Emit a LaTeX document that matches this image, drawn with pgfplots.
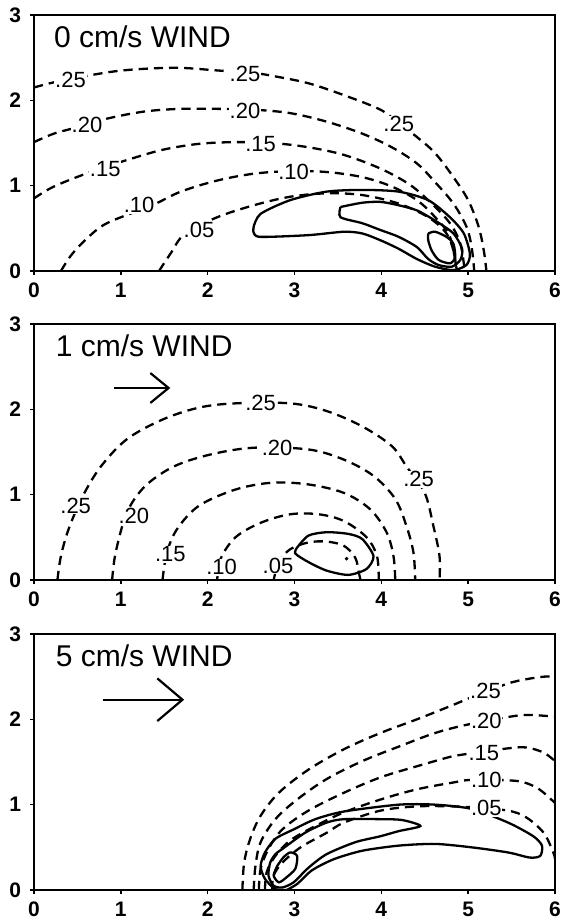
\documentclass[border=0pt]{standalone}
\usepackage{pgfplots}
\pgfplotsset{compat=1.18}
\usepackage{fontspec}
\setmainfont{Liberation Sans}

\pgfplotsset{
  panel/.style={
    scale only axis,
    width=260.5pt, height=128pt,
    anchor=south west,
    xmin=0, xmax=6, ymin=0, ymax=3,
    xtick={0,1,2,3,4,5,6}, ytick={0,1,2,3},
    xtick pos=lower, ytick pos=left,
    tick align=outside, major tick length=2pt,
    axis line style={line width=1.3pt},
    tick style={black, line width=0.8pt},
    tick label style={font=\fontsize{10.5}{11}\selectfont\bfseries},
    /pgf/number format/assume math mode=true,
    yticklabel style={xshift=-1pt},
    xticklabel style={yshift=-0.5pt},
  },
}
\tikzset{
  dashc/.style={black, line width=1.15pt, dash pattern=on 4.6pt off 3pt, smooth, tension=0.55},
  cont/.style={black, line width=1.15pt, smooth, tension=0.45},
  lab/.style={font=\fontsize{11}{12}\selectfont, fill=white, inner sep=0.4pt},
  ttl/.style={font=\fontsize{15}{16}\selectfont, anchor=west},
}

\begin{document}
\begin{tikzpicture}
\useasboundingbox (0,0) rectangle (284pt,460pt);

% ---------------- 0 cm/s ----------------
\begin{axis}[panel, at={(17pt,324.5pt)}]
  % dashed contours
  \addplot[dashc] coordinates {
    (0,2.15) (0.27,2.22) (0.86,2.33) (1.28,2.37) (1.69,2.38) (2.11,2.35)
    (2.53,2.32) (2.78,2.28) (3.16,2.20) (3.57,2.06) (3.99,1.89) (4.20,1.73)
    (4.41,1.57) (4.62,1.38) (4.83,1.10) (5.00,0.83) (5.12,0.52) (5.18,0.24) (5.21,0)};
  \addplot[dashc] coordinates {
    (0,1.51) (0.23,1.61) (0.52,1.69) (0.86,1.79) (1.28,1.87) (1.69,1.90)
    (2.11,1.90) (2.53,1.89) (2.95,1.85) (3.37,1.75) (3.78,1.61) (4.12,1.45)
    (4.41,1.26) (4.62,1.04) (4.83,0.79) (4.98,0.52) (5.04,0.28) (5.07,0)};
  \addplot[dashc] coordinates {
    (0,0.85) (0.23,0.99) (0.65,1.16) (1.07,1.30) (1.48,1.42) (1.90,1.49)
    (2.32,1.51) (2.74,1.50) (3.16,1.45) (3.57,1.36) (3.99,1.20) (4.33,1.01)
    (4.58,0.79) (4.79,0.56) (4.91,0.32) (4.96,0)};
  \addplot[dashc] coordinates {
    (0.31,0) (0.44,0.20) (0.65,0.42) (0.86,0.57) (1.36,0.77) (1.69,0.93)
    (2.11,1.06) (2.53,1.14) (2.95,1.17) (3.37,1.16) (3.78,1.10) (4.12,0.99)
    (4.41,0.83) (4.62,0.63) (4.79,0.40) (4.87,0)};
  \addplot[dashc] coordinates {
    (1.44,0) (1.57,0.20) (1.74,0.44) (2.11,0.63) (2.53,0.77) (2.95,0.87)
    (3.37,0.91) (3.78,0.89) (4.20,0.79) (4.54,0.63) (4.75,0.44) (4.84,0.20) (4.86,0)};
  % solid contours
  \addplot[cont] coordinates {
    (2.53,0.52) (2.61,0.67) (2.95,0.83) (3.37,0.93) (3.78,0.95) (4.20,0.93)
    (4.54,0.83) (4.79,0.63) (4.95,0.44) (5.02,0.20) (4.98,0.07) (4.83,0.01)
    (4.62,0.05) (4.41,0.14) (4.20,0.26) (3.99,0.36) (3.78,0.44) (3.57,0.46)
    (3.16,0.42) (2.61,0.40) (2.53,0.45) (2.53,0.52)};
  \addplot[cont] coordinates {
    (3.53,0.75) (3.78,0.80) (3.99,0.81) (4.20,0.77) (4.41,0.71) (4.62,0.59)
    (4.83,0.44) (4.93,0.26) (4.91,0.13) (4.81,0.05) (4.66,0.07) (4.54,0.14)
    (4.41,0.28) (4.20,0.40) (3.99,0.48) (3.78,0.56) (3.53,0.63) (3.53,0.75)};
  \addplot[cont] coordinates {
    (4.54,0.44) (4.62,0.46) (4.75,0.40) (4.83,0.32) (4.85,0.16) (4.79,0.09)
    (4.66,0.13) (4.58,0.24) (4.54,0.36) (4.54,0.44)};
  % labels
  \node[ttl] at (axis cs:0.15,2.74) {0 cm/s WIND};
  \node[lab] at (axis cs:0.42,2.24) {.25};
  \node[lab] at (axis cs:2.43,2.31) {.25};
  \node[lab] at (axis cs:4.20,1.72) {.25};
  \node[lab] at (axis cs:0.61,1.71) {.20};
  \node[lab] at (axis cs:2.43,1.87) {.20};
  \node[lab] at (axis cs:0.82,1.20) {.15};
  \node[lab] at (axis cs:2.61,1.49) {.15};
  \node[lab] at (axis cs:1.21,0.77) {.10};
  \node[lab] at (axis cs:2.99,1.16) {.10};
  \node[lab] at (axis cs:1.90,0.48) {.05};
\end{axis}

% ---------------- 1 cm/s ----------------
\begin{axis}[panel, at={(17pt,170pt)}]
  \addplot[dashc] coordinates {
    (0.27,0) (0.31,0.28) (0.40,0.60) (0.56,0.98) (0.77,1.33) (1.07,1.65)
    (1.48,1.88) (1.90,2.02) (2.32,2.07) (2.95,2.07) (3.37,1.98) (3.78,1.80)
    (4.12,1.57) (4.29,1.33) (4.50,1.02) (4.60,0.63) (4.67,0.28) (4.67,0)};
  \addplot[dashc] coordinates {
    (0.90,0) (0.94,0.32) (1.07,0.79) (1.28,1.10) (1.61,1.33) (2.03,1.47)
    (2.53,1.55) (3.16,1.53) (3.57,1.41) (3.91,1.22) (4.16,0.95) (4.29,0.63)
    (4.37,0.32) (4.39,0)};
  \addplot[dashc] coordinates {
    (1.48,0) (1.53,0.32) (1.65,0.60) (1.90,0.87) (2.32,1.06) (2.74,1.14)
    (3.16,1.12) (3.57,1.02) (3.87,0.83) (4.06,0.56) (4.14,0.28) (4.16,0)};
  \addplot[dashc] coordinates {
    (2.11,0) (2.15,0.25) (2.32,0.50) (2.61,0.67) (2.95,0.77) (3.28,0.77)
    (3.57,0.69) (3.83,0.50) (3.95,0.28) (3.97,0)};
  \addplot[dashc] coordinates {
    (2.76,0) (2.82,0.21) (2.95,0.36) (3.16,0.44) (3.37,0.45) (3.57,0.40)
    (3.70,0.26) (3.74,0.09) (3.76,0)};
  \addplot[cont] coordinates {
    (3.03,0.38) (3.16,0.52) (3.37,0.56) (3.62,0.54) (3.78,0.48) (3.91,0.28)
    (3.83,0.13) (3.62,0.06) (3.37,0.11) (3.16,0.21) (3.01,0.31) (3.03,0.38)};
  \addplot[black, only marks, mark=*, mark size=0.7pt] coordinates {(3.60,0.25)};
  \draw[line width=1.1pt] (axis cs:0.92,2.25) -- (axis cs:1.55,2.25);
  \draw[line width=1.1pt] (axis cs:1.34,2.425) -- (axis cs:1.55,2.25) -- (axis cs:1.34,2.075);
  \node[ttl] at (axis cs:0.17,2.75) {1 cm/s WIND};
  \node[lab] at (axis cs:0.48,0.87) {.25};
  \node[lab] at (axis cs:2.61,2.07) {.25};
  \node[lab] at (axis cs:4.43,1.18) {.25};
  \node[lab] at (axis cs:1.15,0.75) {.20};
  \node[lab] at (axis cs:2.80,1.55) {.20};
  \node[lab] at (axis cs:1.57,0.30) {.15};
  \node[lab] at (axis cs:2.16,0.15) {.10};
  \node[lab] at (axis cs:2.81,0.17) {.05};
\end{axis}

% ---------------- 5 cm/s ----------------
\begin{axis}[panel, at={(17pt,15pt)}]
  \addplot[dashc] coordinates {
    (2.40,0) (2.42,0.32) (2.49,0.60) (2.61,0.87) (2.82,1.14) (3.16,1.41)
    (3.57,1.65) (3.99,1.84) (4.41,2.00) (4.83,2.17) (5.04,2.26) (5.46,2.42)
    (5.67,2.47) (5.87,2.50) (6,2.50)};
  \addplot[dashc] coordinates {
    (2.53,0) (2.55,0.28) (2.61,0.56) (2.78,0.83) (3.03,1.06) (3.37,1.30)
    (3.78,1.51) (4.20,1.68) (4.62,1.84) (5.00,1.94) (5.54,2.04) (5.75,2.05) (6,2.03)};
  \addplot[dashc] coordinates {
    (2.59,0) (2.61,0.25) (2.70,0.48) (2.86,0.71) (3.16,0.93) (3.57,1.14)
    (3.99,1.32) (4.41,1.45) (4.83,1.57) (5.02,1.60) (5.46,1.66) (5.67,1.67)
    (5.87,1.61) (6,1.51)};
  \addplot[dashc] coordinates {
    (2.66,0) (2.68,0.21) (2.78,0.40) (2.95,0.58) (3.24,0.75) (3.57,0.91)
    (3.99,1.06) (4.41,1.18) (4.83,1.26) (5.04,1.29) (5.54,1.28) (5.75,1.22)
    (5.87,1.14) (6,1.02)};
  \addplot[dashc] coordinates {
    (2.74,0) (2.76,0.17) (2.86,0.32) (3.07,0.50) (3.37,0.67) (3.57,0.79)
    (3.99,0.93) (4.41,0.98) (4.83,0.98) (5.04,0.97) (5.46,0.93) (5.67,0.85)
    (5.87,0.67) (5.98,0.44) (6,0.36)};
  \addplot[cont] coordinates {
    (2.91,0) (2.78,0.01) (2.66,0.13) (2.61,0.28) (2.66,0.44) (2.78,0.60)
    (2.99,0.71) (3.24,0.83) (3.57,0.92) (4.20,1.00) (4.62,1.00) (5.04,0.95)
    (5.46,0.79) (5.75,0.63) (5.85,0.52) (5.83,0.40) (5.71,0.38) (5.46,0.44)
    (5.04,0.50) (4.62,0.54) (4.20,0.52) (3.78,0.46) (3.45,0.36) (3.20,0.23)
    (3.03,0.07) (2.91,0)};
  \addplot[cont] coordinates {
    (2.86,0.48) (3.12,0.67) (3.37,0.79) (3.57,0.83) (3.99,0.83) (4.24,0.82)
    (4.45,0.75) (4.20,0.69) (3.99,0.63) (3.70,0.56) (3.37,0.42) (3.16,0.26)
    (2.99,0.09) (2.86,0.03) (2.76,0.05) (2.70,0.17) (2.72,0.32) (2.78,0.42) (2.86,0.48)};
  \addplot[cont] coordinates {
    (2.80,0.28) (2.87,0.38) (2.95,0.44) (3.03,0.40) (3.01,0.25) (2.91,0.15)
    (2.82,0.09) (2.76,0.17) (2.80,0.28)};
  \draw[line width=1.1pt] (axis cs:0.79,2.23) -- (axis cs:1.71,2.23);
  \draw[line width=1.1pt] (axis cs:1.42,2.48) -- (axis cs:1.71,2.23) -- (axis cs:1.42,1.98);
  \node[ttl] at (axis cs:0.17,2.75) {5 cm/s WIND};
  \node[lab] at (axis cs:5.20,2.33) {.25};
  \node[lab] at (axis cs:5.21,1.98) {.20};
  \node[lab] at (axis cs:5.18,1.61) {.15};
  \node[lab] at (axis cs:5.21,1.29) {.10};
  \node[lab] at (axis cs:5.21,0.96) {.05};
\end{axis}
\end{tikzpicture}
\end{document}
